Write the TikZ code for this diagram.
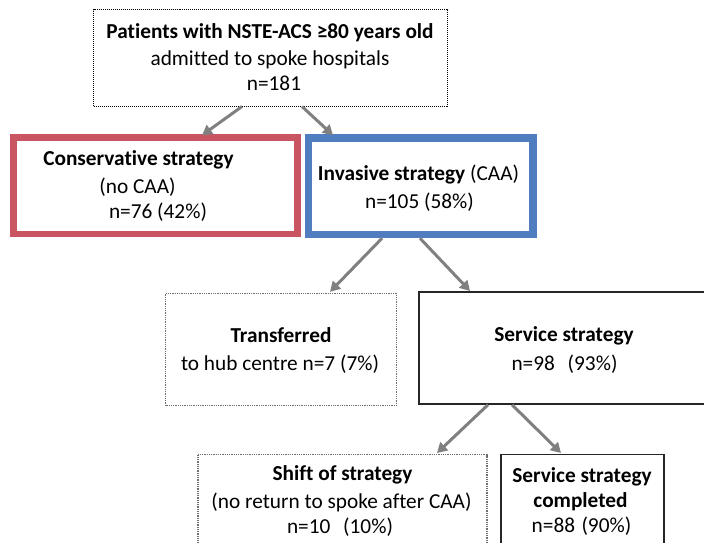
\documentclass[tikz,border=0pt]{standalone}
\usepackage{fontspec}
\setmainfont[Ligatures=NoCommon]{Carlito}
\usetikzlibrary{arrows.meta,calc}
\definecolor{redc}{RGB}{201,85,99}
\definecolor{bluec}{RGB}{79,125,192}
\definecolor{arrowgray}{RGB}{128,128,128}
\definecolor{dotgray}{RGB}{110,110,110}
\begin{document}
\begin{tikzpicture}[x=1pt,y=-1pt,
  box/.style={rectangle,inner sep=0pt,outer sep=0pt},
  dotbox/.style={box,draw=black,line width=0.9pt,dash pattern=on 1pt off 1pt},
  lightdot/.style={box,draw=dotgray,line width=1.2pt,dash pattern=on 1pt off 0.8pt},
  solidbox/.style={box,draw=black!85,line width=1.5pt},
  txt/.style={anchor=base,inner sep=0pt,font=\fontsize{21.3}{25}\selectfont},
  btxt/.style={anchor=base,inner sep=0pt,font=\fontsize{21.3}{25}\selectfont\bfseries},
  arr/.style={draw=arrowgray,line width=3pt,-{Triangle[length=10pt,width=11pt]}}]
\useasboundingbox (0,0) rectangle (704,542);
\clip (0,0) rectangle (704,542);
\fill[white] (0,0) rectangle (704,542);
% boxes
\node[dotbox,minimum width=354pt,minimum height=97pt] (top) at (270.5,58) {};
\node[box,draw=redc,line width=6.5pt,minimum width=284pt,minimum height=96.5pt] (cons) at (155.4,185.5) {};
\node[box,draw=bluec,line width=7.5pt,minimum width=224.5pt,minimum height=96.5pt] (inv) at (420.7,186) {};
\node[lightdot,minimum width=231pt,minimum height=112pt] (trans) at (281,349.3) {};
\node[solidbox,minimum width=290pt,minimum height=112pt] (serv) at (564,348) {};
\node[lightdot,minimum width=289pt,minimum height=100pt] (shift) at (342.5,504.5) {};
\node[solidbox,minimum width=163pt,minimum height=100pt] (comp) at (582.3,504.5) {};
% texts
\node[btxt] (t1) at (270,38) {Patients with NSTE-ACS ≥80 years old};
\node[txt] (t2) at (270,65) {admitted to spoke hospitals};
\node[txt] (t3) at (274,90) {n=181};
\node[btxt] (c1) at (138.5,165) {Conservative strategy};
\node[txt] (c2) at (137.5,193) {(no CAA)};
\node[txt] (c3) at (158,218) {n=76 (42\%)};
\node[txt] (i1) at (418.5,180) {\textbf{Invasive strategy} (CAA)};
\node[txt] (i2) at (419.5,208) {n=105 (58\%)};
\node[btxt] (r1) at (281,342.7) {Transferred};
\node[txt] (r2) at (280,370) {to hub centre n=7 (7\%)};
\node[btxt] (s1) at (564,341.7) {Service strategy};
\node[txt] (s2) at (564.5,370) {n=98\hspace{0.6em}(93\%)};
\node[btxt] (h1) at (342.5,480) {Shift of strategy};
\node[txt] (h2) at (341.5,508) {(no return to spoke after CAA)};
\node[txt] (h3) at (340,533) {n=10\hspace{0.6em}(10\%)};
\node[btxt] (p1) at (582,482) {Service strategy};
\node[btxt] (p2) at (580.5,507) {completed};
\node[txt] (p3) at (581.5,532) {n=88\hspace{0.3em}(90\%)};
% arrows
\draw[arr] ($(top.south)+(-28.5,0)$) -- ($(cons.north)+(46.6,-2)$);
\draw[arr] ($(top.south)+(31.5,0)$) -- ($(inv.north)+(-87.7,-2.5)$);
\draw[arr] ($(inv.south)+(-38.7,4)$) -- ($(trans.north)+(49,-1.5)$);
\draw[arr] ($(inv.south)+(-0.7,4)$) -- ($(serv.north)+(-94,-1)$);
\draw[arr] ($(serv.south)+(-76,0.75)$) -- ($(shift.north)+(94.5,-1.5)$);
\draw[arr] ($(serv.south)+(-52,0.75)$) -- ($(comp.north)+(-21.3,-1.5)$);
\end{tikzpicture}
\end{document}
